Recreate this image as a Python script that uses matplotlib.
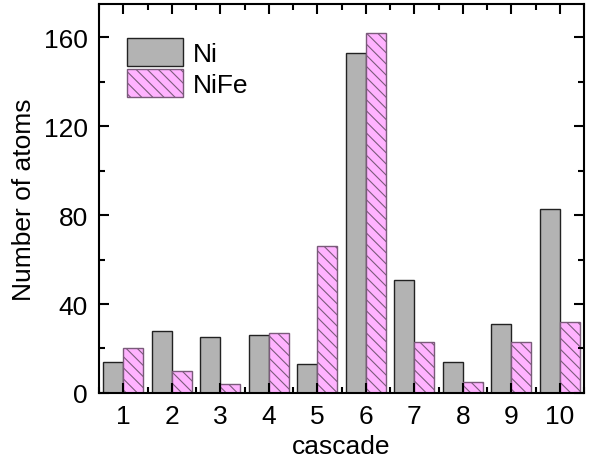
import numpy as np
import matplotlib
matplotlib.use('Agg')
import matplotlib.pyplot as plt
from matplotlib.ticker import MultipleLocator

plt.rcParams['font.family'] = ['Liberation Sans', 'DejaVu Sans']
plt.rcParams['hatch.linewidth'] = 0.8

CASCADES = [1, 2, 3, 4, 5, 6, 7, 8, 9, 10]
NI = [14, 28, 25, 26, 13, 153, 51, 14, 31, 83]
NIFE = [20, 10, 4, 27, 66, 162, 23, 5, 23, 32]


def main():
    fig = plt.figure(figsize=(5.9, 4.64), dpi=100)
    ax = fig.add_axes([0.168, 0.151, 0.822, 0.838])
    x = np.array(CASCADES)
    w = 0.41
    plt.rcParams['hatch.color'] = '#6a4a6a'
    ax.bar(x - w / 2, NI, w, color='#b3b3b3', edgecolor='#222222',
           linewidth=1.0, label='Ni')
    ax.bar(x + w / 2, NIFE, w, color='#ffb3ff', edgecolor='#7a5a7a',
           linewidth=1.0, hatch='\\\\\\', label='NiFe')

    ax.set_xlim(0.5, 10.5)
    ax.set_ylim(0, 175)
    ax.set_xticks(CASCADES)
    ax.xaxis.set_minor_locator(MultipleLocator(0.5))
    ax.yaxis.set_major_locator(MultipleLocator(40))
    ax.yaxis.set_minor_locator(MultipleLocator(20))
    ax.tick_params(which='both', direction='in', top=True, right=True,
                   width=1.5, labelsize=19)
    ax.tick_params(which='major', length=7, pad=8)
    ax.tick_params(which='minor', length=4)
    for s in ax.spines.values():
        s.set_linewidth(1.5)
    ax.set_xlabel('cascade', fontsize=19, labelpad=4)
    ax.set_ylabel('Number of atoms', fontsize=19, labelpad=6)

    ax.legend(loc='upper left', frameon=False, fontsize=19,
              handlelength=2.15, handleheight=1.25, handletextpad=0.35,
              labelspacing=0.12, borderaxespad=0, bbox_to_anchor=(0.035, 0.94))

    fig.savefig('out.png', dpi=100)


if __name__ == '__main__':
    main()
